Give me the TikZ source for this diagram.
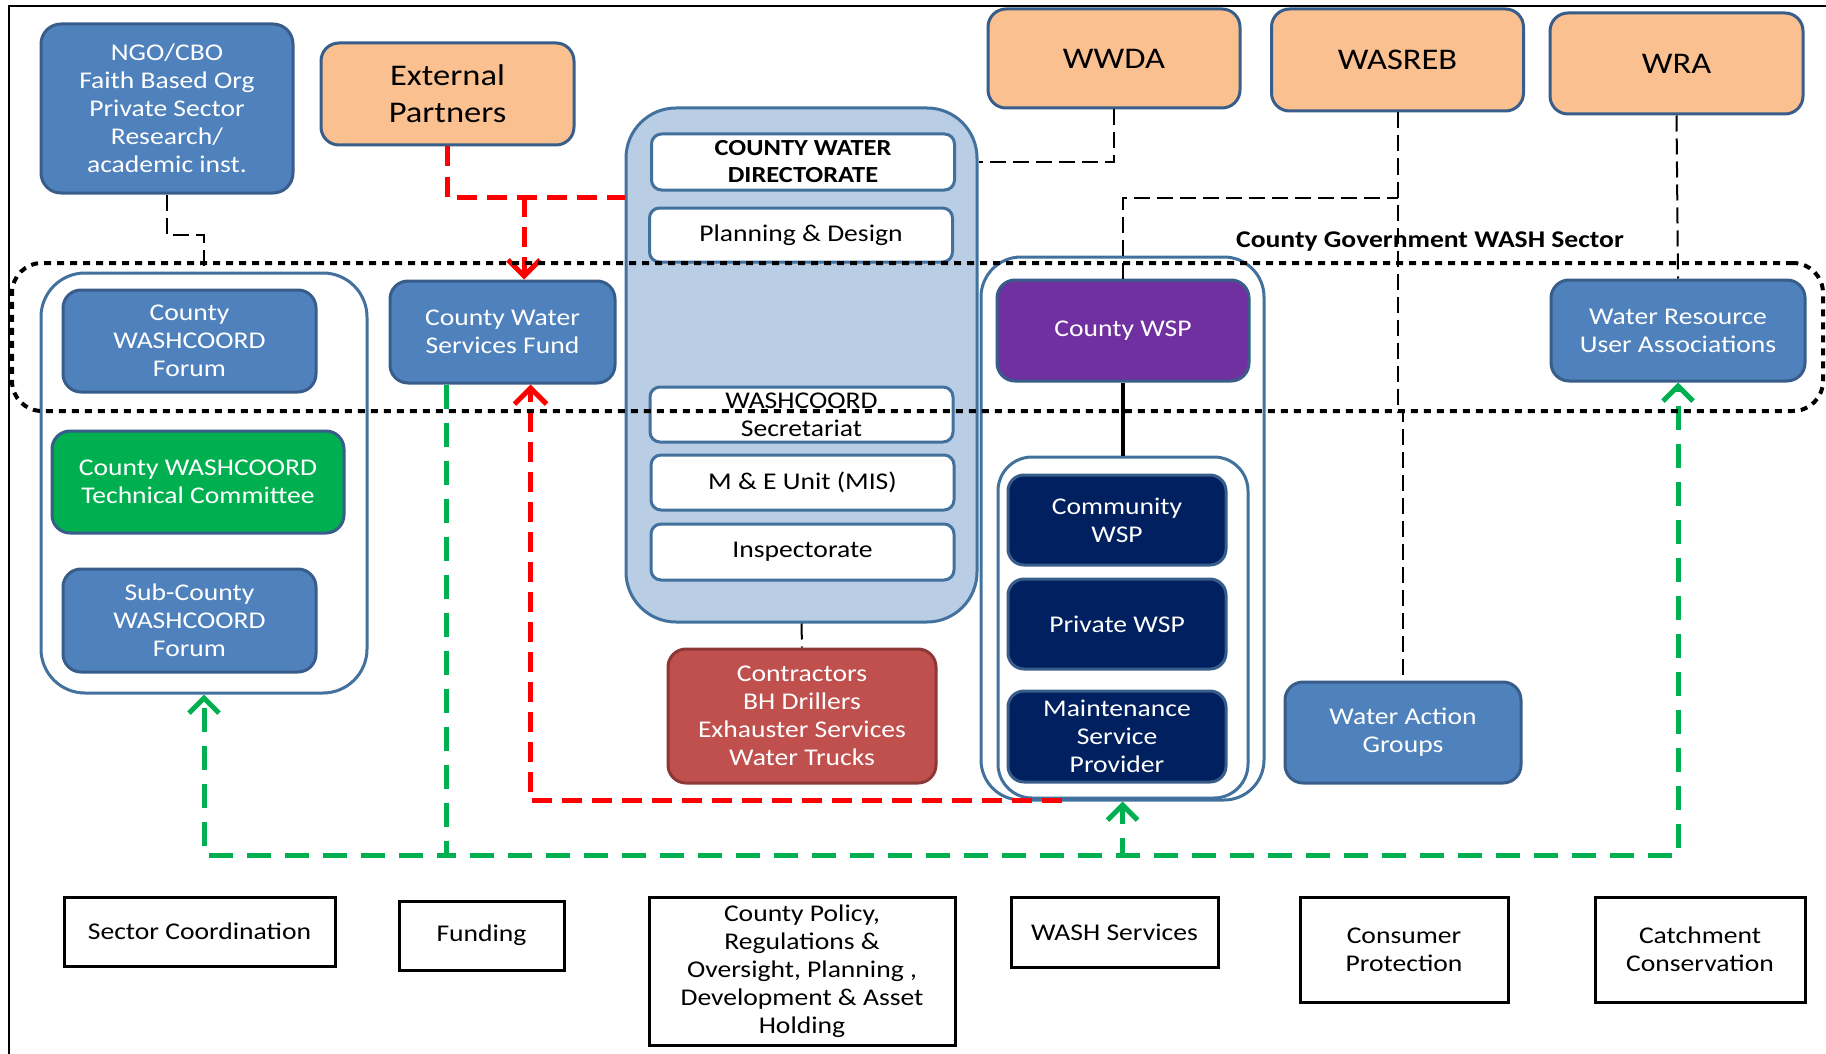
\documentclass[tikz,border=0pt]{standalone}
\usepackage{fontspec}
\setmainfont{Carlito}[FakeStretch=1.15]
\usepackage{tikz}
\usetikzlibrary{arrows.meta,positioning,calc}
\definecolor{cBoxBlue}{HTML}{4F81BD}
\definecolor{cEdge}{HTML}{385D8A}
\definecolor{cFrame}{HTML}{41719C}
\definecolor{cLightBlue}{HTML}{B9CDE5}
\definecolor{cPeach}{HTML}{FAC090}
\definecolor{cGreen}{HTML}{00B050}
\definecolor{cPurple}{HTML}{7030A0}
\definecolor{cNavy}{HTML}{002060}
\definecolor{cRedBox}{HTML}{C0504D}
\definecolor{cRedEdge}{HTML}{8C3836}
\definecolor{cRed}{HTML}{FF0000}
\tikzset{
	bluebox/.style={draw=cEdge, line width=1.5pt, rounded corners=9pt,
		fill=cBoxBlue, text=white, inner sep=0pt, align=center,
		font=\fontsize{12}{14}\selectfont},
	orgbox/.style={draw=cEdge, line width=1.5pt, rounded corners=9pt,
		fill=cPeach, text=black, inner sep=0pt, align=center,
		minimum width=126pt, minimum height=50.5pt,
		font=\fontsize{15}{18.5}\selectfont},
	unitbox/.style={draw=cFrame, line width=1.5pt, rounded corners=5pt,
		fill=white, inner sep=0pt, align=center,
		minimum width=151.5pt, minimum height=27.5pt,
		font=\fontsize{12}{14}\selectfont},
	wspbox/.style={draw=cEdge, line width=1.5pt, rounded corners=8pt,
		fill=cNavy, text=white, inner sep=0pt, align=center,
		minimum width=109pt, minimum height=45pt,
		font=\fontsize{12}{14}\selectfont},
	wrap/.style={draw=cFrame, line width=1.5pt, fill=white, inner sep=0pt},
	labelbox/.style={draw=black, line width=1.5pt, fill=white, inner sep=0pt,
		align=center, font=\fontsize{12}{14}\selectfont},
	sectorbox/.style={draw=black, line width=2pt, dash pattern=on 3.5pt off 3pt,
		rounded corners=15pt, inner sep=0pt},
	kdash/.style={draw=black, line width=1pt, dash pattern=on 8pt off 3.5pt},
	rdash/.style={draw=cRed, line width=2.5pt, dash pattern=on 10pt off 5pt},
	rarr/.style={rdash, -{Straight Barb[length=8pt,width=16pt]}},
	garr/.style={draw=cGreen, line width=2.5pt, dash pattern=on 12pt off 7pt,
		-{Straight Barb[length=7.5pt,width=15pt]}},
}
\begin{document}
\begin{tikzpicture}[x=0.5pt, y=-0.5pt]
	\useasboundingbox (0,0) rectangle (1826,1054);
	% frame (top and left edge)
	\draw[line width=0.9pt] (9,1054) -- (9,6) -- (1826,6);

	% Containers
	\node[wrap, fill=cLightBlue, rounded corners=25pt, minimum width=175.5pt, minimum height=257pt] at (801.5,365) (dir) {};
	\node[wrap, rounded corners=22pt, minimum width=163pt, minimum height=210pt] at (204,483) (leftbox) {};
	\node[wrap, rounded corners=20pt, minimum width=141.5pt, minimum height=271.5pt] at (1122.5,528.5) (wspout) {};
	\node[wrap, rounded corners=17pt, minimum width=125pt, minimum height=170.5pt] at (1123,627.5) (wspin) {};

	% Top row (partners and national bodies)
	\node[bluebox, rounded corners=10pt, minimum width=126pt, minimum height=84.5pt] at (167,108.5) (ngo)
		{NGO/CBO\\Faith Based Org\\Private Sector\\Research/\\academic inst.};
	\node[orgbox, minimum width=126.5pt, minimum height=51pt] at (447.5,94) (ext) {External\\Partners};
	\node[orgbox, minimum height=49.5pt] at (1114,58.5) (wwda) {WWDA};
	\node[orgbox, minimum height=51pt] at (1397.5,60) (wasreb) {WASREB};
	\node[orgbox, minimum width=126.5pt] at (1676.5,63.5) (wra) {WRA};

	% Water directorate units
	\node[unitbox, minimum height=28pt, font=\bfseries\fontsize{11.5}{13.5}\selectfont] at (803,162) (cwd) {COUNTY WATER\\DIRECTORATE};
	\node[unitbox, minimum height=27pt] at (801,235) (plan) {Planning \& Design};
	\node[unitbox] at (801.5,414.5) (secr) {WASHCOORD\\Secretariat};
	\node[unitbox] at (802.5,482.5) (mne) {M \& E Unit (MIS)};
	\node[unitbox, minimum height=28pt] at (802.5,552) (insp) {Inspectorate};
	\node[bluebox, fill=cRedBox, draw=cRedEdge, minimum width=134pt, minimum height=67pt] at (802,716) (contr)
		{Contractors\\BH Drillers\\Exhauster Services\\Water Trucks};

	% Coordination side
	\node[bluebox, minimum width=126.5pt, minimum height=51pt] at (189.5,341) (forum) {County\\WASHCOORD\\Forum};
	\node[bluebox, fill=cGreen, minimum width=146pt, minimum height=51pt] at (198,482) (tech) {County WASHCOORD\\Technical Committee};
	\node[bluebox, minimum width=126.5pt, minimum height=51.5pt] at (189.5,620.5) (subforum) {Sub-County\\WASHCOORD\\Forum};
	\node[bluebox, minimum width=112.5pt, minimum height=51pt] at (502.5,332) (fund) {County Water\\Services Fund};

	% Service providers
	\node[wspbox, fill=cPurple, rounded corners=9pt, minimum width=126pt, minimum height=50.5pt] at (1123,330.5) (cwsp) {County WSP};
	\node[wspbox] at (1117,520) (comwsp) {Community\\WSP};
	\node[wspbox] at (1117,624) (privwsp) {Private WSP};
	\node[wspbox, minimum height=45.5pt] at (1117,736.5) (msp) {Maintenance\\Service\\Provider};
	\node[bluebox, minimum width=118pt, minimum height=50.5pt] at (1403,732.5) (wag) {Water Action\\Groups};
	\node[bluebox, minimum width=127pt, minimum height=50.5pt] at (1678,330.5) (wrua) {Water Resource\\User Associations};

	\node[font=\bfseries\fontsize{12}{14}\selectfont] at (1430,242) (sectorlbl) {County Government WASH Sector};

	% Bottom row (functions)
	\node[labelbox, minimum width=135.5pt, minimum height=34.5pt] at (199.5,931.5) (lcoord) {Sector Coordination};
	\node[labelbox, minimum width=82.5pt, minimum height=34.5pt] at (481.5,935.5) (lfund) {Funding};
	\node[labelbox, minimum width=153pt, minimum height=74pt] at (802,971) (lpolicy)
		{County Policy,\\Regulations \&\\Oversight, Planning ,\\Development \& Asset\\Holding};
	\node[labelbox, minimum width=103.5pt, minimum height=35pt] at (1114.5,932) (lwash) {WASH Services};
	\node[labelbox, minimum width=104pt, minimum height=52.5pt] at (1404,949.5) (lcons) {Consumer\\Protection};
	\node[labelbox, minimum width=105pt, minimum height=52.5pt] at (1700,949.5) (lcatch) {Catchment\\Conservation};

	% black dashed links
	\draw[kdash] (ngo.south) -- ++(0,40) -| (leftbox.north);
	\draw[kdash] (wwda.south) |- (cwd.east -| dir.east);
	\draw[kdash] (wasreb.south) -- ++(0,299) -| (wag.north);
	\path (wasreb.south) ++(0,85) coordinate (wjoin);
	\draw[kdash] (cwsp.north) |- (wjoin);
	\draw[kdash] (wra.south) -- (wrua.north);
	\draw[kdash] (dir.south) -- (contr.north);
	\draw[line width=2pt] (cwsp.south) -- (wspin.north);

	% red links (funding)
	\coordinate (rjoin) at (524,197);
	\draw[rdash] (ext.south) |- (rjoin -| dir.west);
	\draw[rarr] (rjoin) -- (rjoin |- fund.north);
	\coordinate (rbase) at (1062,800);
	\draw[rarr] (rbase) -| ([xshift=14pt]fund.south);

	% green links
	\coordinate (gbus) at (446,855);
	\draw[garr] (gbus |- fund.south) -- (gbus) -| (leftbox.south);
	\draw[garr] (gbus |- fund.south) -- (gbus) -| (wspout.south);
	\draw[garr] (gbus |- fund.south) -- (gbus) -| (wrua.south);

	% County government WASH sector
	\node[sectorbox, minimum width=905.5pt, minimum height=74pt] at (917.5,337) (sector) {};
\end{tikzpicture}
\end{document}
